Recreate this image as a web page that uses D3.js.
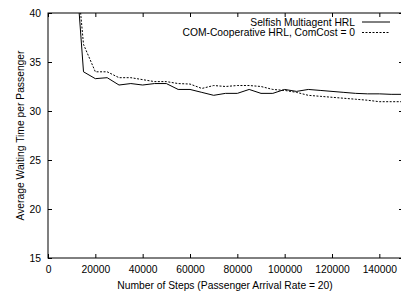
<!DOCTYPE html>
<html>
<head>
<meta charset="utf-8">
<script src="https://cdn.jsdelivr.net/npm/d3@7"></script>
<style>
  body { margin: 0; background: #fff; }
  text { font-family: "Liberation Sans", Arial, sans-serif; font-size: 10.3px; fill: #000; }
</style>
</head>
<body>
<svg id="chart" width="401" height="291"></svg>
<script>
const svg = d3.select("#chart");

// steps on the x axis
var steps = [10000, 15000, 20000, 25000, 30000, 35000, 40000, 45000, 50000, 55000,
             60000, 65000, 70000, 75000, 80000, 85000, 90000, 95000, 100000, 105000,
             110000, 115000, 120000, 125000, 130000, 135000, 140000, 145000, 150000];

var selfish = [50.5, 34.0, 33.3, 33.4, 32.65, 32.8, 32.65, 32.8, 32.8, 32.2,
               32.2, 31.9, 31.6, 31.8, 31.8, 32.2, 31.8, 31.8, 32.2, 32.0,
               32.2, 32.1, 32.0, 31.9, 31.8, 31.75, 31.75, 31.7, 31.7];

var comCoop = [50.0, 36.8, 34.0, 34.0, 33.4, 33.4, 33.2, 33.0, 33.0, 32.8,
               32.75, 32.3, 32.6, 32.5, 32.6, 32.6, 32.5, 32.2, 32.1, 31.9,
               31.6, 31.5, 31.4, 31.3, 31.2, 31.1, 30.95, 30.95, 30.95];

var seriesNames = ["Selfish Multiagent HRL", "COM-Cooperative HRL, ComCost = 0"];
var xTicks = [0, 20000, 40000, 60000, 80000, 100000, 120000, 140000];
var yTicks = [15, 20, 25, 30, 35, 40];

var pLeft = 48, pRight = 403, pTop = 13, pBottom = 258;

var x = d3.scaleLinear().domain([0, 150000]).range([pLeft, pRight]);
var y = d3.scaleLinear().domain([15, 40]).range([pBottom, pTop]);

// clip so the steep start is cut at the top border
svg.append("defs").append("clipPath").attr("id", "clip")
  .append("rect")
  .attr("x", pLeft).attr("y", pTop)
  .attr("width", pRight - pLeft).attr("height", pBottom - pTop);

// axes with inward ticks, mirrored on top/right like gnuplot
var tickLen = 4;
svg.append("g")
  .attr("transform", `translate(0,${pBottom})`)
  .call(d3.axisBottom(x).tickValues(xTicks).tickSize(-tickLen).tickPadding(8).tickFormat(d3.format("d")))
  .call(g => g.select(".domain").remove());
svg.append("g")
  .attr("transform", `translate(0,${pTop})`)
  .call(d3.axisTop(x).tickValues(xTicks).tickSize(-tickLen).tickFormat(""))
  .call(g => g.select(".domain").remove());
svg.append("g")
  .attr("transform", `translate(${pLeft},0)`)
  .call(d3.axisLeft(y).tickValues(yTicks).tickSize(-tickLen).tickPadding(7))
  .call(g => g.select(".domain").remove());
svg.append("g")
  .attr("transform", `translate(${pRight},0)`)
  .call(d3.axisRight(y).tickValues(yTicks).tickSize(-tickLen).tickFormat(""))
  .call(g => g.select(".domain").remove());

svg.selectAll(".tick line").attr("stroke", "#000");
svg.selectAll(".tick text").style("font-size", "10.3px").attr("font-family", null);

svg.append("rect")
  .attr("x", pLeft).attr("y", pTop)
  .attr("width", pRight - pLeft).attr("height", pBottom - pTop)
  .attr("fill", "none").attr("stroke", "#000").attr("stroke-width", 1);

var line = d3.line()
  .x((d, i) => x(steps[i]))
  .y(d => y(d));

var plot = svg.append("g").attr("clip-path", "url(#clip)");
plot.append("path")
  .attr("d", line(selfish))
  .attr("fill", "none").attr("stroke", "#000").attr("stroke-width", 1);
plot.append("path")
  .attr("d", line(comCoop))
  .attr("fill", "none").attr("stroke", "#000").attr("stroke-width", 1)
  .attr("stroke-dasharray", "2,1.5");

// legend
var legend = svg.append("g");
seriesNames.forEach((name, i) => {
  var ly = 22 + i * 10.5;
  legend.append("text")
    .attr("x", 355).attr("y", ly).attr("dy", "0.35em")
    .attr("text-anchor", "end")
    .text(name);
  legend.append("line")
    .attr("x1", 362).attr("x2", 390)
    .attr("y1", ly).attr("y2", ly)
    .attr("stroke", "#000").attr("stroke-width", 1)
    .attr("stroke-dasharray", i === 1 ? "2,1.5" : null);
});

// axis labels
svg.append("text")
  .attr("x", 225).attr("y", 285).attr("dy", "0.35em")
  .attr("text-anchor", "middle")
  .text("Number of Steps (Passenger Arrival Rate = 20)");

svg.append("text")
  .attr("transform", `translate(20,${(pTop + pBottom) / 2}) rotate(-90)`)
  .attr("dy", "0.35em")
  .attr("text-anchor", "middle")
  .text("Average Waiting Time per Passenger");
</script>
</body>
</html>
